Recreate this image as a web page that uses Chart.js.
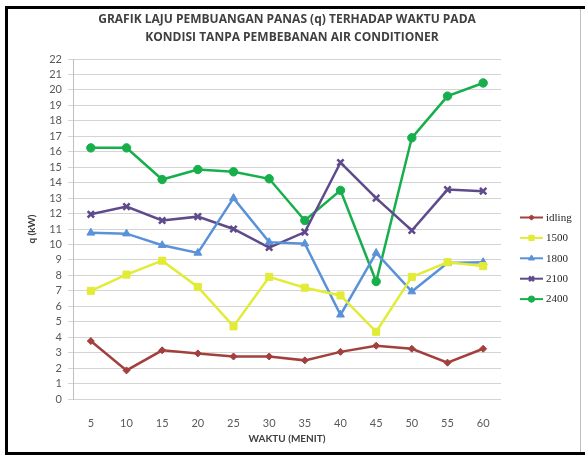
<!DOCTYPE html>
<html>
<head>
<meta charset="utf-8">
<script src="https://cdn.jsdelivr.net/npm/chart.js@4/dist/chart.umd.min.js"></script>
<style>
  html, body { margin: 0; padding: 0; background: #fff; }
  #wrap { width: 585px; height: 456px; position: relative; }
</style>
</head>
<body>
<div id="wrap"><canvas id="chart"></canvas></div>
<script>
/* Data */
const waktu = ['5','10','15','20','25','30','35','40','45','50','55','60'];
const idling = [3.75, 1.85, 3.15, 2.95, 2.75, 2.75, 2.5, 3.05, 3.45, 3.25, 2.35, 3.25];
const rpm1500 = [7.0, 8.05, 8.95, 7.25, 4.7, 7.9, 7.2, 6.7, 4.35, 7.9, 8.85, 8.6];
const rpm1800 = [10.75, 10.7, 9.95, 9.45, 13.0, 10.15, 10.05, 5.45, 9.45, 6.95, 8.8, 8.85];
const rpm2100 = [11.95, 12.45, 11.55, 11.8, 11.0, 9.8, 10.8, 15.3, 13.0, 10.9, 13.55, 13.45];
const rpm2400 = [16.25, 16.25, 14.2, 14.85, 14.7, 14.25, 11.55, 13.5, 7.6, 16.9, 19.6, 20.45];
const titleLines = ['GRAFIK LAJU PEMBUANGAN PANAS (q) TERHADAP WAKTU PADA', 'KONDISI TANPA PEMBEBANAN AIR CONDITIONER'];

/* series styles */
const series = [
  { label: 'idling', data: idling, color: '#A2403E', point: 'rectRot', r: 3.5 },
  { label: '1500', data: rpm1500, color: '#E2EB36', point: 'rect', r: 5 },
  { label: '1800', data: rpm1800, color: '#5A92D9', point: 'triangle', r: 4.5 },
  { label: '2100', data: rpm2100, color: '#5F4A8B', point: 'crossRot', r: 4.5 },
  { label: '2400', data: rpm2400, color: '#17AF4B', point: 'circle', r: 4.2 }
];

/* border frame, white background, title */
const framePlugin = {
  id: 'frame',
  beforeDraw(chart) {
    const c = chart.ctx;
    c.save();
    c.fillStyle = '#fff';
    c.fillRect(0, 0, chart.width, chart.height);
    c.restore();
  },
  afterDraw(chart) {
    const c = chart.ctx;
    c.save();
    c.fillStyle = '#404040';
    c.font = 'bold 12px "Open Sans"';
    c.textAlign = 'center';
    c.textBaseline = 'middle';
    c.fillText(titleLines[0], 287, 20);
    c.fillText(titleLines[1], 292, 38);

    c.strokeStyle = '#bfbfbf';
    c.lineWidth = 1;
    c.beginPath();
    c.moveTo(580.5, 8); c.lineTo(580.5, 453);
    c.stroke();
    c.fillStyle = '#000';
    c.fillRect(5, 6, 3, 449);
    c.fillRect(5, 6, 580, 3);
    c.fillRect(5, 452, 580, 3);
    c.restore();
  }
};

/* legend drawn like the excel one: line + marker + text */
const legendPlugin = {
  id: 'sideLegend',
  afterDraw(chart) {
    const c = chart.ctx;
    c.save();
    chart.data.datasets.forEach((ds, i) => {
      const y = 217.5 + i * 20.4;
      c.strokeStyle = ds.borderColor;
      c.lineWidth = 2;
      c.beginPath();
      c.moveTo(520, y); c.lineTo(543, y);
      c.stroke();
      c.fillStyle = ds.borderColor;
      c.lineWidth = ds.pointBorderWidth;
      Chart.helpers.drawPoint(c, { pointStyle: ds.pointStyle, radius: ds.pointRadius * 0.75, rotation: 0, borderWidth: ds.pointBorderWidth }, 531.5, y);
      c.fillStyle = '#262626';
      c.font = '11px "Liberation Serif"';
      c.textBaseline = 'middle';
      c.textAlign = 'left';
      c.fillText(ds.label, 546, y + 0.5);
    });
    c.restore();
  }
};

new Chart(document.getElementById('chart'), {
  type: 'line',
  data: {
    labels: waktu,
    datasets: series.map(s => ({
      label: s.label,
      data: s.data,
      borderColor: s.color,
      backgroundColor: s.color,
      pointBackgroundColor: s.color,
      pointBorderColor: s.color,
      pointStyle: s.point,
      pointRadius: s.r,
      pointBorderWidth: s.point === 'crossRot' ? 2.5 : 1,
      borderWidth: 2.5,
      tension: 0,
      fill: false
    }))
  },
  options: {
    responsive: true,
    maintainAspectRatio: false,
    animation: false,
    layout: { padding: { left: 8, right: 84, top: 59, bottom: 0 } },
    plugins: {
      legend: { display: false },
      tooltip: { enabled: false },
      title: { display: false }
    },
    scales: {
      x: {
        offset: true,
        grid: { display: false, drawTicks: false, offset: true },
        border: { display: false },
        ticks: { color: '#595959', font: { family: 'Lato', size: 11 }, padding: 18, maxRotation: 0, autoSkip: false },
        title: {
          display: true, text: 'WAKTU (MENIT)', color: '#404040',
          font: { family: 'Lato', size: 10, weight: 'bold' }, padding: { top: 0, bottom: 11 }
        },
        afterFit(scale) { scale.height = 57; }
      },
      y: {
        min: 0, max: 22,
        ticks: { stepSize: 1, autoSkip: false, color: '#595959', font: { family: 'Lato', size: 11 }, padding: 6 },
        grid: { color: '#d4d4d4', lineWidth: 1, tickLength: 5 },
        border: { display: true, color: '#bfbfbf' },
        title: {
          display: true, text: 'q (kW)', color: '#404040',
          font: { family: 'Lato', size: 10, weight: 'bold' }, padding: { top: 18, bottom: 0 }
        },
        afterFit(scale) { scale.width = 65; }
      }
    }
  },
  plugins: [framePlugin, legendPlugin]
});
</script>
</body>
</html>
